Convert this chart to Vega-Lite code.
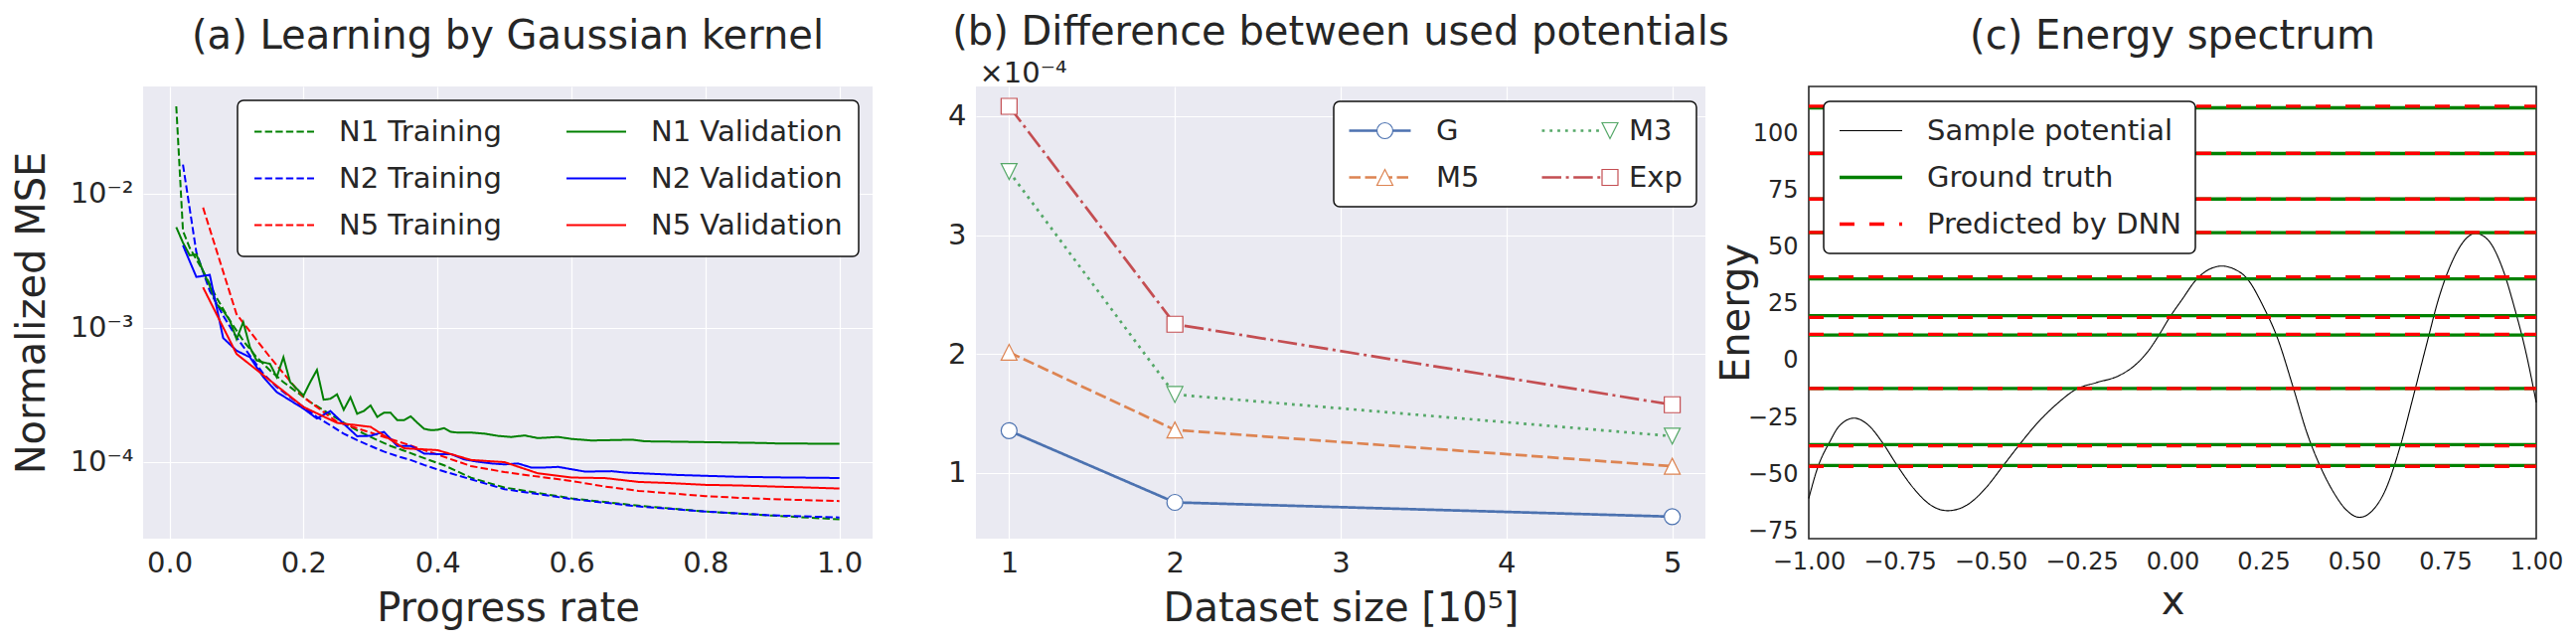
{
  "$schema": "https://vega.github.io/schema/vega-lite/v6.json",
  "background": "white",
  "padding": {"left": 12, "top": 13, "right": 5, "bottom": 5},
  "spacing": 104,
  "bounds": "flush",
  "resolve": {
    "scale": {"color": "independent", "strokeDash": "independent", "strokeWidth": "independent", "stroke": "independent", "shape": "independent"},
    "legend": {"color": "independent", "strokeDash": "independent", "strokeWidth": "independent", "stroke": "independent", "shape": "independent"}
  },
  "hconcat": [
    {
      "width": 734,
      "height": 455,
      "title": {"text": "(a) Learning by Gaussian kernel", "offset": 30},
      "view": {"fill": "#EAEAF2", "stroke": null},
      "data": {
        "values": [
          {"series": "N1 Training", "x": 0.01, "mse": 0.0449},
          {"series": "N1 Training", "x": 0.02, "mse": 0.00527},
          {"series": "N1 Training", "x": 0.03, "mse": 0.00395},
          {"series": "N1 Training", "x": 0.05, "mse": 0.00265},
          {"series": "N1 Training", "x": 0.07, "mse": 0.00168},
          {"series": "N1 Training", "x": 0.09, "mse": 0.00113},
          {"series": "N1 Training", "x": 0.11, "mse": 0.0008},
          {"series": "N1 Training", "x": 0.13, "mse": 0.000602},
          {"series": "N1 Training", "x": 0.15, "mse": 0.00048},
          {"series": "N1 Training", "x": 0.17, "mse": 0.000393},
          {"series": "N1 Training", "x": 0.19, "mse": 0.000331},
          {"series": "N1 Training", "x": 0.21, "mse": 0.000279},
          {"series": "N1 Training", "x": 0.23, "mse": 0.000242},
          {"series": "N1 Training", "x": 0.25, "mse": 0.00021},
          {"series": "N1 Training", "x": 0.27, "mse": 0.000182},
          {"series": "N1 Training", "x": 0.29, "mse": 0.000162},
          {"series": "N1 Training", "x": 0.31, "mse": 0.000145},
          {"series": "N1 Training", "x": 0.33, "mse": 0.000131},
          {"series": "N1 Training", "x": 0.35, "mse": 0.000121},
          {"series": "N1 Training", "x": 0.37, "mse": 0.000111},
          {"series": "N1 Training", "x": 0.39, "mse": 0.000102},
          {"series": "N1 Training", "x": 0.41, "mse": 0.000094},
          {"series": "N1 Training", "x": 0.45, "mse": 0.000076},
          {"series": "N1 Training", "x": 0.5, "mse": 0.0000642},
          {"series": "N1 Training", "x": 0.6, "mse": 0.0000533},
          {"series": "N1 Training", "x": 0.7, "mse": 0.000047},
          {"series": "N1 Training", "x": 0.8, "mse": 0.0000425},
          {"series": "N1 Training", "x": 0.9, "mse": 0.0000396},
          {"series": "N1 Training", "x": 1.0, "mse": 0.0000372},

          {"series": "N2 Training", "x": 0.02, "mse": 0.0165},
          {"series": "N2 Training", "x": 0.04, "mse": 0.00365},
          {"series": "N2 Training", "x": 0.06, "mse": 0.00188},
          {"series": "N2 Training", "x": 0.08, "mse": 0.00123},
          {"series": "N2 Training", "x": 0.1, "mse": 0.000848},
          {"series": "N2 Training", "x": 0.12, "mse": 0.000619},
          {"series": "N2 Training", "x": 0.14, "mse": 0.000453},
          {"series": "N2 Training", "x": 0.16, "mse": 0.000361},
          {"series": "N2 Training", "x": 0.18, "mse": 0.000303},
          {"series": "N2 Training", "x": 0.2, "mse": 0.000256},
          {"series": "N2 Training", "x": 0.22, "mse": 0.000216},
          {"series": "N2 Training", "x": 0.24, "mse": 0.000187},
          {"series": "N2 Training", "x": 0.26, "mse": 0.000162},
          {"series": "N2 Training", "x": 0.28, "mse": 0.000145},
          {"series": "N2 Training", "x": 0.3, "mse": 0.000131},
          {"series": "N2 Training", "x": 0.32, "mse": 0.000119},
          {"series": "N2 Training", "x": 0.34, "mse": 0.00011},
          {"series": "N2 Training", "x": 0.36, "mse": 0.000103},
          {"series": "N2 Training", "x": 0.38, "mse": 0.0000945},
          {"series": "N2 Training", "x": 0.4, "mse": 0.0000875},
          {"series": "N2 Training", "x": 0.5, "mse": 0.0000624},
          {"series": "N2 Training", "x": 0.6, "mse": 0.0000527},
          {"series": "N2 Training", "x": 0.7, "mse": 0.0000464},
          {"series": "N2 Training", "x": 0.8, "mse": 0.0000425},
          {"series": "N2 Training", "x": 0.9, "mse": 0.0000398},
          {"series": "N2 Training", "x": 1.0, "mse": 0.0000384},

          {"series": "N5 Training", "x": 0.05, "mse": 0.00787},
          {"series": "N5 Training", "x": 0.1, "mse": 0.00126},
          {"series": "N5 Training", "x": 0.15, "mse": 0.000602},
          {"series": "N5 Training", "x": 0.2, "mse": 0.000303},
          {"series": "N5 Training", "x": 0.25, "mse": 0.000198},
          {"series": "N5 Training", "x": 0.3, "mse": 0.000165},
          {"series": "N5 Training", "x": 0.35, "mse": 0.000137},
          {"series": "N5 Training", "x": 0.4, "mse": 0.000113},
          {"series": "N5 Training", "x": 0.45, "mse": 0.0000928},
          {"series": "N5 Training", "x": 0.5, "mse": 0.0000837},
          {"series": "N5 Training", "x": 0.55, "mse": 0.0000774},
          {"series": "N5 Training", "x": 0.6, "mse": 0.0000719},
          {"series": "N5 Training", "x": 0.65, "mse": 0.0000653},
          {"series": "N5 Training", "x": 0.7, "mse": 0.0000606},
          {"series": "N5 Training", "x": 0.75, "mse": 0.000058},
          {"series": "N5 Training", "x": 0.8, "mse": 0.0000554},
          {"series": "N5 Training", "x": 0.85, "mse": 0.0000538},
          {"series": "N5 Training", "x": 0.9, "mse": 0.0000526},
          {"series": "N5 Training", "x": 0.95, "mse": 0.0000517},
          {"series": "N5 Training", "x": 1.0, "mse": 0.0000509},

          {"series": "N1 Validation", "x": 0.01, "mse": 0.00562},
          {"series": "N1 Validation", "x": 0.02, "mse": 0.00431},
          {"series": "N1 Validation", "x": 0.03, "mse": 0.00347},
          {"series": "N1 Validation", "x": 0.04, "mse": 0.00352},
          {"series": "N1 Validation", "x": 0.05, "mse": 0.00265},
          {"series": "N1 Validation", "x": 0.06, "mse": 0.00205},
          {"series": "N1 Validation", "x": 0.07, "mse": 0.0015},
          {"series": "N1 Validation", "x": 0.08, "mse": 0.00134},
          {"series": "N1 Validation", "x": 0.09, "mse": 0.00113},
          {"series": "N1 Validation", "x": 0.1, "mse": 0.000824},
          {"series": "N1 Validation", "x": 0.11, "mse": 0.0011},
          {"series": "N1 Validation", "x": 0.12, "mse": 0.000715},
          {"series": "N1 Validation", "x": 0.13, "mse": 0.000569},
          {"series": "N1 Validation", "x": 0.14, "mse": 0.000552},
          {"series": "N1 Validation", "x": 0.15, "mse": 0.000537},
          {"series": "N1 Validation", "x": 0.16, "mse": 0.000428},
          {"series": "N1 Validation", "x": 0.17, "mse": 0.000602},
          {"series": "N1 Validation", "x": 0.18, "mse": 0.000393},
          {"series": "N1 Validation", "x": 0.19, "mse": 0.00035},
          {"series": "N1 Validation", "x": 0.2, "mse": 0.000312},
          {"series": "N1 Validation", "x": 0.21, "mse": 0.000393},
          {"series": "N1 Validation", "x": 0.22, "mse": 0.000484},
          {"series": "N1 Validation", "x": 0.23, "mse": 0.00029},
          {"series": "N1 Validation", "x": 0.24, "mse": 0.000295},
          {"series": "N1 Validation", "x": 0.25, "mse": 0.000318},
          {"series": "N1 Validation", "x": 0.26, "mse": 0.000244},
          {"series": "N1 Validation", "x": 0.27, "mse": 0.000303},
          {"series": "N1 Validation", "x": 0.28, "mse": 0.000228},
          {"series": "N1 Validation", "x": 0.29, "mse": 0.000239},
          {"series": "N1 Validation", "x": 0.3, "mse": 0.000263},
          {"series": "N1 Validation", "x": 0.31, "mse": 0.000216},
          {"series": "N1 Validation", "x": 0.32, "mse": 0.000232},
          {"series": "N1 Validation", "x": 0.33, "mse": 0.000232},
          {"series": "N1 Validation", "x": 0.34, "mse": 0.000204},
          {"series": "N1 Validation", "x": 0.35, "mse": 0.000204},
          {"series": "N1 Validation", "x": 0.36, "mse": 0.000218},
          {"series": "N1 Validation", "x": 0.37, "mse": 0.000195},
          {"series": "N1 Validation", "x": 0.38, "mse": 0.000176},
          {"series": "N1 Validation", "x": 0.39, "mse": 0.000172},
          {"series": "N1 Validation", "x": 0.4, "mse": 0.000173},
          {"series": "N1 Validation", "x": 0.41, "mse": 0.000178},
          {"series": "N1 Validation", "x": 0.42, "mse": 0.000167},
          {"series": "N1 Validation", "x": 0.43, "mse": 0.000165},
          {"series": "N1 Validation", "x": 0.45, "mse": 0.000165},
          {"series": "N1 Validation", "x": 0.47, "mse": 0.000162},
          {"series": "N1 Validation", "x": 0.49, "mse": 0.000156},
          {"series": "N1 Validation", "x": 0.51, "mse": 0.000153},
          {"series": "N1 Validation", "x": 0.53, "mse": 0.000157},
          {"series": "N1 Validation", "x": 0.55, "mse": 0.00015},
          {"series": "N1 Validation", "x": 0.58, "mse": 0.000153},
          {"series": "N1 Validation", "x": 0.6, "mse": 0.000148},
          {"series": "N1 Validation", "x": 0.63, "mse": 0.000144},
          {"series": "N1 Validation", "x": 0.69, "mse": 0.000146},
          {"series": "N1 Validation", "x": 0.71, "mse": 0.000142},
          {"series": "N1 Validation", "x": 0.76, "mse": 0.000141},
          {"series": "N1 Validation", "x": 0.8, "mse": 0.00014},
          {"series": "N1 Validation", "x": 0.885, "mse": 0.000138},
          {"series": "N1 Validation", "x": 0.905, "mse": 0.000137},
          {"series": "N1 Validation", "x": 1.0, "mse": 0.000136},

          {"series": "N2 Validation", "x": 0.02, "mse": 0.00411},
          {"series": "N2 Validation", "x": 0.04, "mse": 0.00239},
          {"series": "N2 Validation", "x": 0.06, "mse": 0.00248},
          {"series": "N2 Validation", "x": 0.08, "mse": 0.000838},
          {"series": "N2 Validation", "x": 0.1, "mse": 0.000674},
          {"series": "N2 Validation", "x": 0.12, "mse": 0.000602},
          {"series": "N2 Validation", "x": 0.14, "mse": 0.000428},
          {"series": "N2 Validation", "x": 0.16, "mse": 0.000331},
          {"series": "N2 Validation", "x": 0.18, "mse": 0.000287},
          {"series": "N2 Validation", "x": 0.2, "mse": 0.000249},
          {"series": "N2 Validation", "x": 0.22, "mse": 0.00021},
          {"series": "N2 Validation", "x": 0.24, "mse": 0.000239},
          {"series": "N2 Validation", "x": 0.26, "mse": 0.000192},
          {"series": "N2 Validation", "x": 0.28, "mse": 0.000155},
          {"series": "N2 Validation", "x": 0.3, "mse": 0.000156},
          {"series": "N2 Validation", "x": 0.32, "mse": 0.000167},
          {"series": "N2 Validation", "x": 0.34, "mse": 0.000131},
          {"series": "N2 Validation", "x": 0.36, "mse": 0.000131},
          {"series": "N2 Validation", "x": 0.38, "mse": 0.000115},
          {"series": "N2 Validation", "x": 0.4, "mse": 0.000114},
          {"series": "N2 Validation", "x": 0.42, "mse": 0.000114},
          {"series": "N2 Validation", "x": 0.44, "mse": 0.000104},
          {"series": "N2 Validation", "x": 0.46, "mse": 0.0001},
          {"series": "N2 Validation", "x": 0.48, "mse": 0.0000971},
          {"series": "N2 Validation", "x": 0.5, "mse": 0.0000955},
          {"series": "N2 Validation", "x": 0.52, "mse": 0.0000971},
          {"series": "N2 Validation", "x": 0.54, "mse": 0.0000905},
          {"series": "N2 Validation", "x": 0.56, "mse": 0.0000905},
          {"series": "N2 Validation", "x": 0.58, "mse": 0.0000915},
          {"series": "N2 Validation", "x": 0.62, "mse": 0.0000844},
          {"series": "N2 Validation", "x": 0.66, "mse": 0.000085},
          {"series": "N2 Validation", "x": 0.68, "mse": 0.000083},
          {"series": "N2 Validation", "x": 0.76, "mse": 0.0000796},
          {"series": "N2 Validation", "x": 0.84, "mse": 0.0000774},
          {"series": "N2 Validation", "x": 0.9, "mse": 0.0000765},
          {"series": "N2 Validation", "x": 1.0, "mse": 0.0000756},

          {"series": "N5 Validation", "x": 0.05, "mse": 0.002},
          {"series": "N5 Validation", "x": 0.1, "mse": 0.000637},
          {"series": "N5 Validation", "x": 0.15, "mse": 0.000404},
          {"series": "N5 Validation", "x": 0.2, "mse": 0.000256},
          {"series": "N5 Validation", "x": 0.25, "mse": 0.000195},
          {"series": "N5 Validation", "x": 0.3, "mse": 0.000182},
          {"series": "N5 Validation", "x": 0.35, "mse": 0.000126},
          {"series": "N5 Validation", "x": 0.4, "mse": 0.000122},
          {"series": "N5 Validation", "x": 0.45, "mse": 0.000103},
          {"series": "N5 Validation", "x": 0.5, "mse": 0.0000993},
          {"series": "N5 Validation", "x": 0.55, "mse": 0.0000819},
          {"series": "N5 Validation", "x": 0.6, "mse": 0.0000762},
          {"series": "N5 Validation", "x": 0.65, "mse": 0.0000755},
          {"series": "N5 Validation", "x": 0.7, "mse": 0.0000707},
          {"series": "N5 Validation", "x": 0.75, "mse": 0.0000692},
          {"series": "N5 Validation", "x": 0.8, "mse": 0.0000672},
          {"series": "N5 Validation", "x": 0.85, "mse": 0.0000665},
          {"series": "N5 Validation", "x": 0.9, "mse": 0.0000653},
          {"series": "N5 Validation", "x": 0.95, "mse": 0.0000643},
          {"series": "N5 Validation", "x": 1.0, "mse": 0.0000631}
        ]
      },
      "mark": {"type": "line", "strokeWidth": 2, "clip": true},
      "encoding": {
        "x": {
          "field": "x", "type": "quantitative",
          "scale": {"domain": [-0.0395, 1.0495], "nice": false, "zero": false},
          "axis": {"values": [0, 0.2, 0.4, 0.6, 0.8, 1.0], "format": ".1f", "grid": true,
                   "title": "Progress rate", "titleX": 367, "titleY": 82}
        },
        "y": {
          "field": "mse", "type": "quantitative",
          "scale": {"type": "log", "domain": [0.00002667, 0.0631], "nice": false},
          "axis": {"values": [0.0001, 0.001, 0.01], "grid": true,
                   "labelExpr": "datum.value < 0.0005 ? '10⁻⁴' : datum.value < 0.005 ? '10⁻³' : '10⁻²'",
                   "title": "Normalized MSE", "titleX": -100, "titleY": 227.5, "titleAngle": 270}
        },
        "color": {
          "field": "series", "type": "nominal",
          "scale": {
            "domain": ["N1 Training", "N2 Training", "N5 Training", "N1 Validation", "N2 Validation", "N5 Validation"],
            "range": ["#008000", "#0000ff", "#ff0000", "#008000", "#0000ff", "#ff0000"]
          },
          "legend": {
            "title": null, "orient": "top-right", "offset": 14, "columns": 2,
            "symbolType": "stroke", "symbolSize": 3600, "symbolStrokeWidth": 2,
            "labelOffset": 24, "columnPadding": 64, "rowPadding": 16, "clipHeight": 31, "padding": 16,
            "fillColor": "white", "strokeColor": "#111111", "cornerRadius": 6
          }
        },
        "strokeDash": {
          "field": "series", "type": "nominal",
          "scale": {
            "domain": ["N1 Training", "N2 Training", "N5 Training", "N1 Validation", "N2 Validation", "N5 Validation"],
            "range": [[7.4, 3.2], [7.4, 3.2], [7.4, 3.2], [1, 0], [1, 0], [1, 0]]
          },
          "legend": {"title": null}
        }
      }
    },
    {
      "width": 734,
      "height": 455,
      "title": {"text": "(b) Difference between used potentials", "offset": 6},
      "view": {"fill": "#EAEAF2", "stroke": null},
      "data": {
        "values": [
          {"pot": "G", "size": 1, "mse": 1.356},
          {"pot": "G", "size": 2, "mse": 0.753},
          {"pot": "G", "size": 5, "mse": 0.633},
          {"pot": "M5", "size": 1, "mse": 2.015},
          {"pot": "M5", "size": 2, "mse": 1.362},
          {"pot": "M5", "size": 5, "mse": 1.057},
          {"pot": "M3", "size": 1, "mse": 3.535},
          {"pot": "M3", "size": 2, "mse": 1.66},
          {"pot": "M3", "size": 5, "mse": 1.31},
          {"pot": "Exp", "size": 1, "mse": 4.083},
          {"pot": "Exp", "size": 2, "mse": 2.251},
          {"pot": "Exp", "size": 5, "mse": 1.574}
        ]
      },
      "encoding": {
        "x": {
          "field": "size", "type": "quantitative",
          "scale": {"domain": [0.8, 5.2], "nice": false, "zero": false},
          "axis": {"values": [1, 2, 3, 4, 5], "format": "d", "grid": true,
                   "title": "Dataset size [10⁵]", "titleX": 367, "titleY": 82}
        },
        "y": {
          "field": "mse", "type": "quantitative",
          "scale": {"domain": [0.448, 4.25], "nice": false, "zero": false},
          "axis": {"values": [1, 2, 3, 4], "format": "d", "grid": true,
                   "title": "×10⁻⁴", "titleFontSize": 29, "titleAngle": 0, "titleAlign": "left",
                   "titleX": 3, "titleY": -5}
        }
      },
      "layer": [
        {
          "mark": {"type": "line", "strokeWidth": 2.7},
          "encoding": {
            "color": {
              "field": "pot", "type": "nominal",
              "scale": {"domain": ["G", "M5", "M3", "Exp"], "range": ["#4c72b0", "#dd8452", "#55a868", "#c44e52"]},
              "legend": {
                "title": null, "orient": "none", "legendX": 360, "legendY": 15, "columns": 2,
                "symbolType": "stroke", "symbolSize": 3844, "symbolStrokeWidth": 2.7,
                "labelOffset": 24, "columnPadding": 61, "rowPadding": 16, "clipHeight": 31, "padding": 14,
                "fillColor": "white", "strokeColor": "#111111", "cornerRadius": 6
              }
            },
            "strokeDash": {
              "field": "pot", "type": "nominal",
              "scale": {"domain": ["G", "M5", "M3", "Exp"], "range": [[1, 0], [11.5, 4.5], [2.8, 5], [19.5, 4.6, 3, 4.6]]},
              "legend": {"title": null}
            }
          }
        },
        {
          "mark": {"type": "point", "filled": true, "fill": "white", "size": 256, "strokeWidth": 1.2, "opacity": 1},
          "encoding": {
            "stroke": {
              "field": "pot", "type": "nominal",
              "scale": {"domain": ["G", "M5", "M3", "Exp"], "range": ["#4c72b0", "#dd8452", "#55a868", "#c44e52"]},
              "legend": {
                "title": null, "orient": "none", "legendX": 360, "legendY": 15, "columns": 2,
                "symbolSize": 256, "symbolOffset": 23, "symbolStrokeWidth": 1.2, "symbolFillColor": "white",
                "labelOffset": 70, "labelExpr": "''", "columnPadding": 104.5, "rowPadding": 16, "clipHeight": 31, "padding": 14
              }
            },
            "shape": {
              "field": "pot", "type": "nominal",
              "scale": {
                "domain": ["G", "M5", "M3", "Exp"],
                "range": [
                  "M 1 0 A 1 1 0 1 1 -1 0 A 1 1 0 1 1 1 0 Z",
                  "M 0 -1 L 1 1 L -1 1 Z",
                  "M 0 1 L -1 -1 L 1 -1 Z",
                  "M -1 -1 L 1 -1 L 1 1 L -1 1 Z"
                ]
              },
              "legend": {"title": null}
            }
          }
        }
      ],
      "resolve": {"legend": {"color": "independent", "strokeDash": "independent", "stroke": "independent", "shape": "independent"}}
    },
    {
      "width": 732,
      "height": 455,
      "title": {"text": "(c) Energy spectrum", "offset": 30},
      "view": {"fill": "white", "stroke": "#262626", "strokeWidth": 1.6},
      "data": {
        "values": [
          {"kind": "Sample potential", "level": "V", "x": -1.0, "E": -60.6},
          {"kind": "Sample potential", "level": "V", "x": -0.975, "E": -46.8},
          {"kind": "Sample potential", "level": "V", "x": -0.943, "E": -35.9},
          {"kind": "Sample potential", "level": "V", "x": -0.916, "E": -28.7},
          {"kind": "Sample potential", "level": "V", "x": -0.875, "E": -25.3},
          {"kind": "Sample potential", "level": "V", "x": -0.834, "E": -28.7},
          {"kind": "Sample potential", "level": "V", "x": -0.798, "E": -35.9},
          {"kind": "Sample potential", "level": "V", "x": -0.757, "E": -46.1},
          {"kind": "Sample potential", "level": "V", "x": -0.711, "E": -56.3},
          {"kind": "Sample potential", "level": "V", "x": -0.665, "E": -63.5},
          {"kind": "Sample potential", "level": "V", "x": -0.618, "E": -66.0},
          {"kind": "Sample potential", "level": "V", "x": -0.565, "E": -63.5},
          {"kind": "Sample potential", "level": "V", "x": -0.515, "E": -56.3},
          {"kind": "Sample potential", "level": "V", "x": -0.465, "E": -46.1},
          {"kind": "Sample potential", "level": "V", "x": -0.419, "E": -36.6},
          {"kind": "Sample potential", "level": "V", "x": -0.374, "E": -27.9},
          {"kind": "Sample potential", "level": "V", "x": -0.319, "E": -19.2},
          {"kind": "Sample potential", "level": "V", "x": -0.265, "E": -12.6},
          {"kind": "Sample potential", "level": "V", "x": -0.21, "E": -9.7},
          {"kind": "Sample potential", "level": "V", "x": -0.146, "E": -6.5},
          {"kind": "Sample potential", "level": "V", "x": -0.101, "E": -1.7},
          {"kind": "Sample potential", "level": "V", "x": -0.064, "E": 4.8},
          {"kind": "Sample potential", "level": "V", "x": -0.037, "E": 11.3},
          {"kind": "Sample potential", "level": "V", "x": -0.01, "E": 18.5},
          {"kind": "Sample potential", "level": "V", "x": 0.025, "E": 26.6},
          {"kind": "Sample potential", "level": "V", "x": 0.068, "E": 36.1},
          {"kind": "Sample potential", "level": "V", "x": 0.104, "E": 40.4},
          {"kind": "Sample potential", "level": "V", "x": 0.136, "E": 41.6},
          {"kind": "Sample potential", "level": "V", "x": 0.168, "E": 40.4},
          {"kind": "Sample potential", "level": "V", "x": 0.205, "E": 36.1},
          {"kind": "Sample potential", "level": "V", "x": 0.25, "E": 23.7},
          {"kind": "Sample potential", "level": "V", "x": 0.287, "E": 10.6},
          {"kind": "Sample potential", "level": "V", "x": 0.332, "E": -11.9},
          {"kind": "Sample potential", "level": "V", "x": 0.369, "E": -31.5},
          {"kind": "Sample potential", "level": "V", "x": 0.405, "E": -46.1},
          {"kind": "Sample potential", "level": "V", "x": 0.442, "E": -57.7},
          {"kind": "Sample potential", "level": "V", "x": 0.478, "E": -65.7},
          {"kind": "Sample potential", "level": "V", "x": 0.514, "E": -68.9},
          {"kind": "Sample potential", "level": "V", "x": 0.551, "E": -65.7},
          {"kind": "Sample potential", "level": "V", "x": 0.587, "E": -56.3},
          {"kind": "Sample potential", "level": "V", "x": 0.624, "E": -38.8},
          {"kind": "Sample potential", "level": "V", "x": 0.66, "E": -17.0},
          {"kind": "Sample potential", "level": "V", "x": 0.697, "E": 6.2},
          {"kind": "Sample potential", "level": "V", "x": 0.733, "E": 28.0},
          {"kind": "Sample potential", "level": "V", "x": 0.77, "E": 44.0},
          {"kind": "Sample potential", "level": "V", "x": 0.806, "E": 53.5},
          {"kind": "Sample potential", "level": "V", "x": 0.833, "E": 56.0},
          {"kind": "Sample potential", "level": "V", "x": 0.869, "E": 52.8},
          {"kind": "Sample potential", "level": "V", "x": 0.906, "E": 41.1},
          {"kind": "Sample potential", "level": "V", "x": 0.942, "E": 22.2},
          {"kind": "Sample potential", "level": "V", "x": 0.97, "E": 4.8},
          {"kind": "Sample potential", "level": "V", "x": 1.0, "E": -18.4},

          {"kind": "Ground truth", "level": "1", "x": -1, "E": -46.1},
          {"kind": "Ground truth", "level": "1", "x": 1, "E": -46.1},
          {"kind": "Ground truth", "level": "2", "x": -1, "E": -36.9},
          {"kind": "Ground truth", "level": "2", "x": 1, "E": -36.9},
          {"kind": "Ground truth", "level": "3", "x": -1, "E": -12.2},
          {"kind": "Ground truth", "level": "3", "x": 1, "E": -12.2},
          {"kind": "Ground truth", "level": "4", "x": -1, "E": 11.3},
          {"kind": "Ground truth", "level": "4", "x": 1, "E": 11.3},
          {"kind": "Ground truth", "level": "5", "x": -1, "E": 19.8},
          {"kind": "Ground truth", "level": "5", "x": 1, "E": 19.8},
          {"kind": "Ground truth", "level": "6", "x": -1, "E": 36.0},
          {"kind": "Ground truth", "level": "6", "x": 1, "E": 36.0},
          {"kind": "Ground truth", "level": "7", "x": -1, "E": 56.3},
          {"kind": "Ground truth", "level": "7", "x": 1, "E": 56.3},
          {"kind": "Ground truth", "level": "8", "x": -1, "E": 71.1},
          {"kind": "Ground truth", "level": "8", "x": 1, "E": 71.1},
          {"kind": "Ground truth", "level": "9", "x": -1, "E": 91.1},
          {"kind": "Ground truth", "level": "9", "x": 1, "E": 91.1},
          {"kind": "Ground truth", "level": "10", "x": -1, "E": 111.2},
          {"kind": "Ground truth", "level": "10", "x": 1, "E": 111.2},

          {"kind": "Predicted by DNN", "level": "1", "x": -1, "E": -46.5},
          {"kind": "Predicted by DNN", "level": "1", "x": 1, "E": -46.5},
          {"kind": "Predicted by DNN", "level": "2", "x": -1, "E": -37.5},
          {"kind": "Predicted by DNN", "level": "2", "x": 1, "E": -37.5},
          {"kind": "Predicted by DNN", "level": "3", "x": -1, "E": -12.2},
          {"kind": "Predicted by DNN", "level": "3", "x": 1, "E": -12.2},
          {"kind": "Predicted by DNN", "level": "4", "x": -1, "E": 11.6},
          {"kind": "Predicted by DNN", "level": "4", "x": 1, "E": 11.6},
          {"kind": "Predicted by DNN", "level": "5", "x": -1, "E": 19.0},
          {"kind": "Predicted by DNN", "level": "5", "x": 1, "E": 19.0},
          {"kind": "Predicted by DNN", "level": "6", "x": -1, "E": 36.8},
          {"kind": "Predicted by DNN", "level": "6", "x": 1, "E": 36.8},
          {"kind": "Predicted by DNN", "level": "7", "x": -1, "E": 56.4},
          {"kind": "Predicted by DNN", "level": "7", "x": 1, "E": 56.4},
          {"kind": "Predicted by DNN", "level": "8", "x": -1, "E": 71.1},
          {"kind": "Predicted by DNN", "level": "8", "x": 1, "E": 71.1},
          {"kind": "Predicted by DNN", "level": "9", "x": -1, "E": 91.2},
          {"kind": "Predicted by DNN", "level": "9", "x": 1, "E": 91.2},
          {"kind": "Predicted by DNN", "level": "10", "x": -1, "E": 111.9},
          {"kind": "Predicted by DNN", "level": "10", "x": 1, "E": 111.9}
        ]
      },
      "encoding": {
        "x": {
          "field": "x", "type": "quantitative",
          "scale": {"domain": [-1, 1], "nice": false, "zero": false},
          "axis": {"values": [-1, -0.75, -0.5, -0.25, 0, 0.25, 0.5, 0.75, 1], "format": ".2f", "grid": false,
                   "labelFontSize": 24, "labelPadding": 11,
                   "title": "x", "titleX": 366, "titleY": 75}
        },
        "y": {
          "field": "E", "type": "quantitative",
          "scale": {"domain": [-78.3, 120.6], "nice": false, "zero": false},
          "axis": {"values": [-75, -50, -25, 0, 25, 50, 75, 100], "grid": false,
                   "labelFontSize": 24, "labelPadding": 11,
                   "title": "Energy", "titleX": -61, "titleY": 227.5, "titleAngle": 270}
        },
        "detail": {"field": "level", "type": "nominal"},
        "color": {
          "field": "kind", "type": "nominal",
          "scale": {"domain": ["Sample potential", "Ground truth", "Predicted by DNN"], "range": ["#000000", "#008000", "#ff0000"]},
          "legend": {
            "title": null, "orient": "top-left", "offset": 15,
            "symbolType": "stroke", "symbolSize": 3969,
            "labelOffset": 23, "rowPadding": 16, "clipHeight": 31, "padding": 14,
            "fillColor": "white", "strokeColor": "#111111", "cornerRadius": 6
          }
        },
        "strokeDash": {
          "field": "kind", "type": "nominal",
          "scale": {"domain": ["Sample potential", "Ground truth", "Predicted by DNN"], "range": [[1, 0], [1, 0], [15, 15]]},
          "legend": {"title": null}
        },
        "strokeWidth": {
          "field": "kind", "type": "nominal",
          "scale": {"type": "ordinal", "domain": ["Sample potential", "Ground truth", "Predicted by DNN"], "range": [1.1, 3.3, 3.3]},
          "legend": {"title": null}
        }
      },
      "layer": [
        {"transform": [{"filter": "datum.kind == 'Sample potential'"}], "mark": {"type": "line", "interpolate": "monotone"}},
        {"transform": [{"filter": "datum.kind == 'Ground truth'"}], "mark": {"type": "line"}},
        {"transform": [{"filter": "datum.kind == 'Predicted by DNN'"}], "mark": {"type": "line"}}
      ]
    }
  ],
  "config": {
    "font": "DejaVu Sans",
    "title": {"fontSize": 40, "fontWeight": "normal", "color": "#262626", "baseline": "alphabetic", "frame": "group", "anchor": "middle"},
    "axis": {
      "labelFontSize": 29, "labelColor": "#262626", "labelPadding": 10, "labelFlush": false, "labelOverlap": false,
      "titleFontSize": 40, "titleFontWeight": "normal", "titleColor": "#262626", "titleBaseline": "alphabetic", "titleAlign": "center",
      "domain": false, "ticks": false, "tickSize": 0, "gridColor": "white", "gridWidth": 1.2, "gridOpacity": 1
    },
    "legend": {"labelFontSize": 29, "labelColor": "#262626", "labelFont": "DejaVu Sans", "strokeWidth": 1.5, "labelLimit": 0}
  }
}
